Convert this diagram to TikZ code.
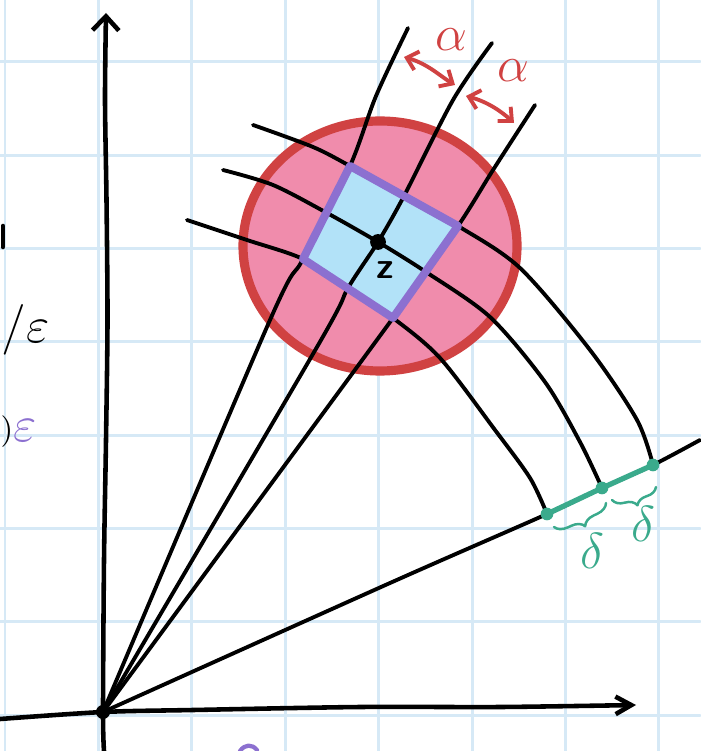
\documentclass[tikz,border=0pt]{standalone}
\usepackage{xcolor}
\usepackage{tikz}
\usetikzlibrary{arrows.meta, decorations.pathreplacing, calc}

\definecolor{gridblue}{RGB}{214,233,246}
\definecolor{diskpink}{RGB}{240,140,172}
\definecolor{diskred}{RGB}{208,66,66}
\definecolor{boxblue}{RGB}{178,226,248}
\definecolor{boxpurple}{RGB}{140,112,208}
\definecolor{markgreen}{RGB}{58,170,140}

\begin{document}
\begin{tikzpicture}[
    x=0.1mm, y=-0.1mm,
    line cap=round, line join=round,
    gridline/.style={gridblue, line width=0.85pt},
    axis/.style={line width=1.3pt},
    ray/.style={line width=1.1pt},
    disk/.style={draw=diskred, line width=2.6pt},
    patch/.style={draw=boxpurple, line width=2.3pt},
    alphaarr/.style={{Straight Barb[length=3pt, width=5.5pt]}-{Straight Barb[length=3pt, width=5.5pt]}, diskred, line width=1.1pt},
    lbl/.style={font=\fontsize{14}{16}\selectfont},
    spot/.style={circle, fill=#1, inner sep=0pt, minimum size=3.6pt},
    brc/.style={decorate, decoration={brace, mirror, amplitude=3.5pt}, markgreen, line width=0.7pt},
]
    % Paper
    \useasboundingbox (0,0) rectangle (700,751);
    \fill[white] (0,0) rectangle (700,751);
    \foreach \k in {0,...,7} {
        \draw[gridline] ({5+93.4*\k},0) -- ({5+93.4*\k},751);
        \draw[gridline] (0,{62+93.3*\k}) -- (700,{62+93.3*\k});
    }

    % Points
    \coordinate (O) at (103,712);
    \coordinate (z) at (378,242);
    \coordinate (TL) at (350,166);
    \coordinate (TR) at (458,226);
    \coordinate (BR) at (393,318);
    \coordinate (BL) at (303,259);
    \coordinate (d1) at (547,514);
    \coordinate (d2) at (602,488);
    \coordinate (d3) at (653,465);

    % Disk and patch
    \fill[diskpink] (380,246) ellipse [x radius=137, y radius=125];
    \draw[disk] (380,246) ellipse [x radius=137, y radius=125];
    \fill[boxblue] (TL) -- (TR) -- (BR) -- (BL) -- cycle;

    % Axes
    \draw[axis, -{Straight Barb[length=4pt, width=7.5pt]}] plot[smooth] coordinates {(104,751) (O) (104,560) (106,440) (107.5,320) (106.5,200) (105,100) (106,13)};
    \draw[axis, -{Straight Barb[length=4.5pt, width=5pt]}] plot[smooth] coordinates {(0,719) (O) (193,710) (360,707) (500,707) (636,705)};
    \draw[ray] plot[smooth] coordinates {(O) (390,583) (d1) (d2) (d3) (700,440)};

    % Rays
    \draw[ray] plot[smooth] coordinates {(O) (270,320) (BL) (TL) (376,96) (408,28)};
    \draw[ray] plot[smooth] coordinates {(O) (317,347) (348,288) (z) (404,196) (453,100) (492,43)};
    \draw[ray] plot[smooth] coordinates {(O) (BR) (TR) (493,170) (535,105)};

    % Level curves
    \draw[ray] plot[smooth] coordinates {(253,125) (313,147) (TL) (404,196) (TR) (520,268) (590,350) (637,420) (d3)};
    \draw[ray] plot[smooth] coordinates {(223,170) (273,185) (327,213) (z) (426,272) (490,317) (545,382) (580,442) (d2)};
    \draw[ray] plot[smooth] coordinates {(187,220) (247,240) (BL) (348,288) (BR) (440,358) (495,430) (530,478) (d1)};

    \draw[patch] (TL) -- (TR) -- (BR) -- (BL) -- cycle;
    \node[spot=black, minimum size=4pt] (O dot) at (O) {};
    \node[spot=black, minimum size=4.5pt] (z dot) at (z) {};
    \node[font=\fontsize{10.5}{12}\selectfont\bfseries\sffamily] (z lbl) at (385,270) {z};

    % Spacing alpha
    \draw[alphaarr] (404,57) .. controls (428,64) and (440,76) .. (455,85);
    \draw[alphaarr] (466,96) .. controls (488,102) and (502,112) .. (514,123);
    \node[lbl, text=diskred] (alpha1) at (451,40) {$\alpha$};
    \node[lbl, text=diskred] (alpha2) at (513,71) {$\alpha$};

    % Spacing delta
    \draw[markgreen, line width=1.5pt] (d1) -- (d2) -- (d3);
    \node[spot=markgreen] (dot1) at (d1) {};
    \node[spot=markgreen] (dot2) at (d2) {};
    \node[spot=markgreen] (dot3) at (d3) {};
    \draw[brc] (554,527) -- (606,503);
    \draw[brc] (612,500) -- (656,487);
    \node[lbl, text=markgreen] (delta1) at (592,551) {$\delta$};
    \node[lbl, text=markgreen] (delta2) at (643,524) {$\delta$};

    % Cut-off notes at the edge
    \draw[axis] (3,226) -- (3,247);
    \node[lbl, anchor=west, inner sep=0pt] (note1) at (1,330) {$/\varepsilon$};
    \node[font=\fontsize{9}{10}\selectfont, anchor=west, inner sep=0pt] (note2) at (0,432) {)};
    \node[lbl, text=boxpurple] (note3) at (25,431) {$\varepsilon$};
    \draw[boxpurple, line width=1.2pt] (240,751) .. controls (245,744) and (252,744) .. (257,750);
\end{tikzpicture}
\end{document}
